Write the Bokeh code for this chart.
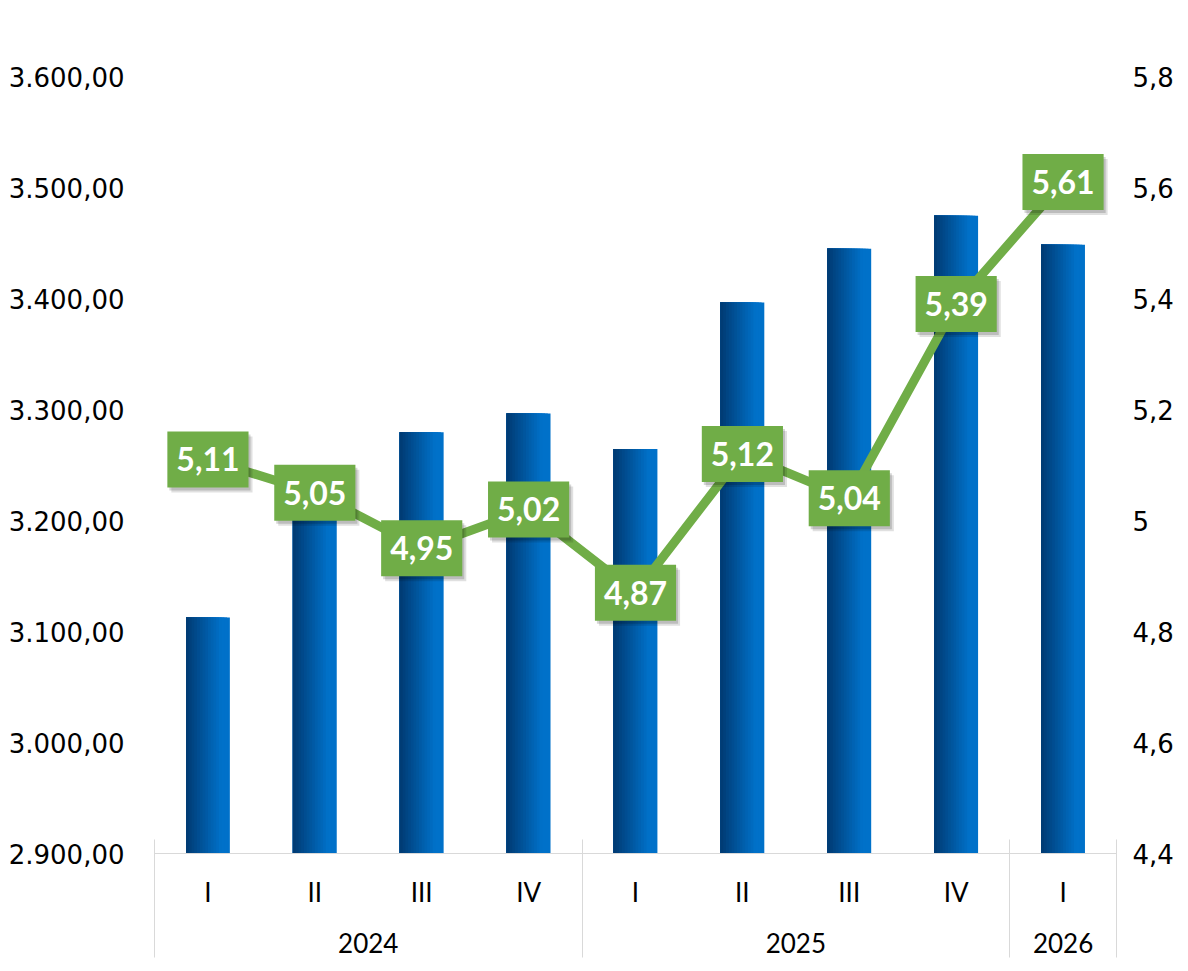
from bokeh.plotting import figure
from bokeh.models import (FactorRange, Range1d, LinearAxis, FixedTicker, CustomJSTickFormatter,
                          ColumnDataSource, Legend, LegendItem, Label)
from bokeh.transform import dodge
from bokeh.core.properties import value
from bokeh.embed import file_html
from bokeh.resources import INLINE

# ---------------- data ----------------
years = ["2024", "2024", "2024", "2024", "2025", "2025", "2025", "2025", "2026"]
quarters = ["I", "II", "III", "IV", "I", "II", "III", "IV", "I"]
nominal = [3112.6, 3231.0, 3279.6, 3296.5, 3264.5, 3396.3, 3444.8, 3474.5, 3448.5]
growth = [5.11, 5.05, 4.95, 5.02, 4.87, 5.12, 5.04, 5.39, 5.61]

left_ticks = [2900, 3000, 3100, 3200, 3300, 3400, 3500, 3600]
left_tick_labels = ["2.900,00", "3.000,00", "3.100,00", "3.200,00",
                    "3.300,00", "3.400,00", "3.500,00", "3.600,00"]
right_ticks = [4.4, 4.6, 4.8, 5.0, 5.2, 5.4, 5.6, 5.8]
right_tick_labels = ["4,4", "4,6", "4,8", "5", "5,2", "5,4", "5,6", "5,8"]

left_title = "(Triliun Rp)"
right_title = "(%, yoy)"
bar_name = "Nominal"
line_name = "Growth (rhs)"

# ---------------- layout constants ----------------
W, H = 1188, 971
BL, BR, BT, BB = 154, 72, 76, 118
FRAME_W, FRAME_H = W - BL - BR, H - BT - BB
CAT_AXIS_EXT = 116          # pixel depth of the two-level category axis

BLUE_DARK = (0x00, 0x3a, 0x72)
BLUE_LIGHT = (0x00, 0x71, 0xc9)
GREEN = "#70ad47"
GRID_GREY = "#d9d9d9"

factors = list(zip(years, quarters))
labels = [f"{g:.2f}".replace(".", ",") for g in growth]
src = ColumnDataSource(dict(x=factors, nominal=nominal, growth=growth, lab=labels))

x_range = FactorRange(*factors, factor_padding=0, group_padding=0, range_padding=0)
y0, y1 = left_ticks[0], left_ticks[-1]
p = figure(width=W, height=H, x_range=x_range, y_range=Range1d(y0, y1),
           output_backend="svg", toolbar_location=None, y_axis_location=None,
           min_border_left=BL, min_border_right=BR, min_border_top=BT,
           min_border_bottom=BB)
n = len(factors)
p.extra_y_ranges = {"g": Range1d(right_ticks[0], right_ticks[-1])}
p.outline_line_color = None
p.xgrid.visible = False
p.ygrid.visible = False
p.background_fill_color = "white"

# ---------------- y axes ----------------
fmt_code = """
for (let i = 0; i < tv.length; i++) {
  if (Math.abs(tick - tv[i]) < 1e-6) { return tl[i]; }
}
return "";
"""
lax = LinearAxis(ticker=FixedTicker(ticks=left_ticks),
                 formatter=CustomJSTickFormatter(args=dict(tv=left_ticks, tl=left_tick_labels), code=fmt_code))
rax = LinearAxis(y_range_name="g", ticker=FixedTicker(ticks=right_ticks),
                 formatter=CustomJSTickFormatter(args=dict(tv=right_ticks, tl=right_tick_labels), code=fmt_code))
for ax, so in ((lax, 30), (rax, 16)):
    ax.axis_line_color = None
    ax.major_tick_line_color = None
    ax.minor_tick_line_color = None
    ax.major_tick_out = 0
    ax.major_tick_in = 0
    ax.major_label_standoff = so
    ax.major_label_text_font = "DejaVu Sans"
    ax.major_label_text_font_size = "26px"
    ax.major_label_text_color = "black"
p.add_layout(lax, "left")
p.add_layout(rax, "right")

# ---------------- category axis ----------------
xa = p.xaxis[0]
xa.axis_line_color = GRID_GREY
xa.axis_line_width = 1
xa.major_tick_line_color = None
xa.major_tick_out = 0
xa.major_tick_in = 0
xa.minor_tick_line_color = None
xa.major_label_standoff = 22
xa.major_label_text_font = "Lato"
xa.major_label_text_font_size = "26px"
xa.major_label_text_color = "black"
xa.group_text_font = "Lato"
xa.group_text_font_size = "26px"
xa.group_text_font_style = "normal"
xa.group_text_color = "black"
xa.separator_line_color = None

# vertical dividers of the category table: group boundaries and outer edges
# (synthetic category coordinates: slot i spans [i, i+1])
bounds_pos = [0] + [i for i in range(1, n) if years[i] != years[i - 1]] + [n]
sep_axis = LinearAxis(ticker=FixedTicker(ticks=bounds_pos),
                      axis_line_color=None, major_tick_line_color=GRID_GREY,
                      major_tick_line_width=1, major_tick_in=CAT_AXIS_EXT,
                      major_tick_out=BB - CAT_AXIS_EXT, minor_tick_line_color=None,
                      major_label_text_font_size="0px", major_label_standoff=0)
p.add_layout(sep_axis, "below")

# ---------------- bars (horizontal gradient) ----------------
NS = 16
BW = 0.41
bar_rs = {}
for k in range(NS - 1, -1, -1):
    t = min(1.0, ((k + 0.5) / NS) / 0.8)
    col = "#%02x%02x%02x" % tuple(int(round(a + (b - a) * t)) for a, b in zip(BLUE_DARK, BLUE_LIGHT))
    wk = BW * (k + 1) / NS
    r = p.vbar(x=dodge("x", -BW / 2 + wk / 2, range=p.x_range), top="nominal", bottom=y0,
               width=wk, fill_color=col, line_color=None, source=src)
    bar_rs[k] = r

# ---------------- growth line ----------------
line_r = p.line(x="x", y="growth", y_range_name="g", source=src, line_color=GREEN,
                line_width=9, line_join="round", line_cap="round")

# ---------------- data labels ----------------
pad = dict(left=9, right=9, top=16, bottom=16)
for dx, dy, a in ((2, 3, 0.16), (4, 5, 0.12)):
    p.text(x="x", y="growth", text="lab", y_range_name="g", source=src,
           text_font=value("Lato"), text_font_style="bold", text_font_size="32px",
           text_align="center", text_baseline="middle", text_alpha=0.0,
           x_offset=dx, y_offset=dy, padding=pad,
           background_fill_color="black", background_fill_alpha=a)
p.text(x="x", y="growth", text="lab", y_range_name="g", source=src,
       text_font=value("Lato"), text_font_style="bold", text_font_size="32px",
       text_align="center", text_baseline="middle", text_color="white",
       padding=pad, background_fill_color=GREEN)

# ---------------- legend ----------------
legend = Legend(items=[LegendItem(label=bar_name, renderers=[bar_rs[NS // 3]]),
                       LegendItem(label=line_name, renderers=[line_r])],
                orientation="horizontal", location=(242, FRAME_H + 28),
                glyph_width=55, glyph_height=20, label_standoff=2, spacing=6,
                padding=0, margin=0, border_line_color=None, background_fill_alpha=0,
                label_text_font="Lato", label_text_font_size="28px",
                label_text_color="black")
p.add_layout(legend, "center")

# ---------------- axis titles ----------------
p.add_layout(Label(x=-BL + 10, y=FRAME_H + 54, x_units="screen", y_units="screen",
                   text=left_title, text_font="Lato", text_font_size="28px",
                   text_baseline="middle", text_align="left", text_color="black"))
p.add_layout(Label(x=FRAME_W + BR - 5, y=FRAME_H + 54, x_units="screen", y_units="screen",
                   text=right_title, text_font="Lato", text_font_size="28px",
                   text_baseline="middle", text_align="right", text_color="black"))

open("out.html", "w").write(file_html(p, INLINE))
